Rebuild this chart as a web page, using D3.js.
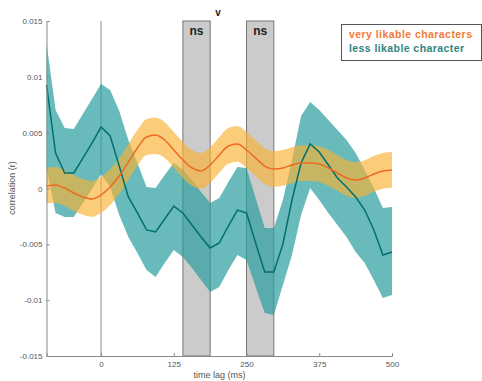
<!DOCTYPE html>
<html>
<head>
<meta charset="utf-8">
<script src="https://d3js.org/d3.v7.min.js"></script>
<style>
  body { margin: 0; background: #fff; }
  svg { display: block; font-family: "Liberation Sans", Arial, sans-serif; }
</style>
</head>
<body>
<svg id="chart" width="482" height="381"></svg>
<script>
// time lags (ms), sampled every 15.625 ms
const lags = [-93.75, -78.125, -62.5, -46.875, -31.25, -15.625, 0, 15.625, 31.25, 46.875,
  62.5, 78.125, 93.75, 109.375, 125, 140.625, 156.25, 171.875, 187.5, 203.125,
  218.75, 234.375, 250, 265.625, 281.25, 296.875, 312.5, 328.125, 343.75, 359.375,
  375, 390.625, 406.25, 421.875, 437.5, 453.125, 468.75, 484.375, 500];

// very likable characters (x 0.001)
const likedMean = [0.22, 0.31, 0.04, -0.40, -0.76, -0.94, -0.58, 0.13, 1.12, 2.37,
  3.63, 4.61, 4.79, 4.34, 3.45, 2.55, 1.84, 1.57, 2.10, 3.00,
  3.81, 3.99, 3.45, 2.73, 2.01, 1.75, 1.84, 2.10, 2.28, 2.28,
  2.19, 1.84, 1.39, 0.94, 0.76, 0.94, 1.30, 1.57, 1.66];
const likedHi = [1.84, 1.92, 1.64, 1.20, 0.84, 0.66, 1.02, 1.73, 2.72, 3.97,
  5.23, 6.21, 6.35, 5.94, 5.05, 4.15, 3.44, 3.17, 3.70, 4.60,
  5.41, 5.59, 5.05, 4.33, 3.61, 3.35, 3.44, 3.70, 3.88, 3.88,
  3.79, 3.44, 2.99, 2.54, 2.36, 2.54, 2.90, 3.17, 3.26];
const likedLo = [-1.30, -1.30, -1.56, -2.00, -2.36, -2.54, -2.18, -1.47, -0.48, 0.77,
  2.03, 3.01, 3.09, 2.74, 1.85, 0.95, 0.24, -0.03, 0.50, 1.40,
  2.21, 2.39, 1.85, 1.13, 0.41, 0.15, 0.24, 0.50, 0.68, 0.68,
  0.59, 0.24, -0.21, -0.66, -0.84, -0.66, -0.30, -0.03, 0.06];

// less likable character (x 0.001)
const lessMean = [9.27, 3.18, 1.39, 1.39, 2.73, 4.07, 5.50, 4.70, 2.01, -0.76,
  -2.19, -3.71, -3.89, -2.73, -1.57, -2.19, -3.27, -4.34, -5.33, -4.88,
  -3.36, -1.93, -2.19, -4.88, -7.48, -7.48, -4.97, -1.03, 2.28, 3.98,
  3.27, 2.10, 0.94, 0.13, -0.76, -1.93, -3.71, -5.95, -5.69];
const lessHi = [13.03, 7.03, 5.42, 5.33, 6.67, 8.01, 9.36, 8.82, 6.94, 4.34,
  2.28, 0.13, 0.04, 1.21, 2.28, 1.66, 0.76, -0.31, -1.30, -0.85,
  0.58, 1.92, 1.84, -0.85, -3.54, -3.54, -1.03, 2.55, 6.49, 7.74,
  7.03, 6.13, 5.24, 4.34, 3.18, 1.66, 0.04, -1.75, -1.66];
const lessLo = [1.84, -2.19, -2.55, -2.55, -1.30, -0.04, 1.30, 0.13, -2.37, -4.34,
  -5.77, -7.30, -7.92, -6.67, -5.51, -6.13, -7.12, -8.19, -9.27, -8.82,
  -7.30, -5.95, -6.40, -8.82, -11.15, -11.32, -8.64, -5.95, -2.37, 0.04,
  -1.03, -2.19, -3.27, -4.34, -5.68, -6.67, -8.19, -9.80, -9.53];

// non-significant windows (ms)
const nsWindows = [[140.625, 187.5], [250, 296.875]];

const xTicks = [0, 125, 250, 375, 500];
const yTicks = [0.015, 0.01, 0.005, 0, -0.005, -0.01, -0.015];

const svg = d3.select("#chart");

const x = d3.scaleLinear().domain([-93.75, 500]).range([46.5, 392]);
const y = d3.scaleLinear().domain([-0.015, 0.015]).range([356, 21]);

const liked = lags.map((t, i) => ({ t, m: likedMean[i] / 1000, hi: likedHi[i] / 1000, lo: likedLo[i] / 1000 }));
const less = lags.map((t, i) => ({ t, m: lessMean[i] / 1000, hi: lessHi[i] / 1000, lo: lessLo[i] / 1000 }));

// ns boxes
svg.append("g")
  .selectAll("rect")
  .data(nsWindows)
  .join("rect")
  .attr("x", d => x(d[0]))
  .attr("y", y(0.015))
  .attr("width", d => x(d[1]) - x(d[0]))
  .attr("height", y(-0.015) - y(0.015))
  .attr("fill", "#cbcbcb")
  .attr("stroke", "#777")
  .attr("stroke-width", 1);

svg.append("g")
  .selectAll("text")
  .data(nsWindows)
  .join("text")
  .attr("x", d => (x(d[0]) + x(d[1])) / 2)
  .attr("y", 35)
  .attr("text-anchor", "middle")
  .attr("font-size", 12)
  .attr("font-weight", "bold")
  .attr("fill", "#222")
  .text("ns");

svg.append("text")
  .attr("x", 218).attr("y", 16)
  .attr("text-anchor", "middle")
  .attr("font-size", 10)
  .attr("font-weight", "bold")
  .attr("fill", "#222")
  .text("v");

// zero lag line
svg.append("line")
  .attr("x1", x(0)).attr("x2", x(0))
  .attr("y1", y(0.015)).attr("y2", y(-0.015))
  .attr("stroke", "#8a8a8a")
  .attr("stroke-width", 1);

// bands
const areaLin = d3.area().x(d => x(d.t)).y0(d => y(d.lo)).y1(d => y(d.hi));
const areaSmooth = d3.area().x(d => x(d.t)).y0(d => y(d.lo)).y1(d => y(d.hi)).curve(d3.curveMonotoneX);

svg.append("path")
  .datum(less)
  .attr("d", areaLin)
  .attr("fill", "#2a9d9d")
  .attr("fill-opacity", 0.7);

svg.append("path")
  .datum(liked)
  .attr("d", areaSmooth)
  .attr("fill", "#f9b233")
  .attr("fill-opacity", 0.65);

// mean lines
svg.append("path")
  .datum(less)
  .attr("d", d3.line().x(d => x(d.t)).y(d => y(d.m)))
  .attr("fill", "none")
  .attr("stroke", "#00706e")
  .attr("stroke-width", 1.5);

svg.append("path")
  .datum(liked)
  .attr("d", d3.line().x(d => x(d.t)).y(d => y(d.m)).curve(d3.curveMonotoneX))
  .attr("fill", "none")
  .attr("stroke", "#ef6a23")
  .attr("stroke-width", 1.5);

// axes
const yAxis = svg.append("g")
  .attr("transform", `translate(${x(-93.75)},0)`)
  .call(d3.axisLeft(y).tickValues(yTicks).tickSize(-3).tickPadding(4)
    .tickFormat(d => String(d)));
const xAxis = svg.append("g")
  .attr("transform", `translate(0,${y(-0.015)})`)
  .call(d3.axisBottom(x).tickValues(xTicks).tickSize(-3).tickPadding(5));

[yAxis, xAxis].forEach(g => {
  g.select(".domain").attr("stroke", "#8a8a8a");
  g.selectAll(".tick line").attr("stroke", "#8a8a8a");
  g.selectAll(".tick text").attr("fill", "#555").attr("font-size", 8)
    .attr("font-family", "Liberation Sans, Arial, sans-serif");
});

svg.append("text")
  .attr("x", 219.5).attr("y", 378)
  .attr("text-anchor", "middle")
  .attr("font-size", 9)
  .attr("fill", "#555")
  .text("time lag (ms)");

svg.append("text")
  .attr("transform", "translate(15,188) rotate(-90)")
  .attr("text-anchor", "middle")
  .attr("font-size", 9)
  .attr("fill", "#555")
  .text("correlation (r)");

// legend
const legend = svg.append("g");
legend.append("rect")
  .attr("x", 341.5).attr("y", 24.5)
  .attr("width", 140).attr("height", 36)
  .attr("fill", "#fff")
  .attr("stroke", "#555");
legend.append("text")
  .attr("x", 349).attr("y", 38)
  .attr("font-size", 10.5).attr("font-weight", "bold")
  .attr("fill", "#f07a3a")
  .attr("textLength", 123)
  .text("very likable characters");
legend.append("text")
  .attr("x", 349).attr("y", 52)
  .attr("font-size", 10.5).attr("font-weight", "bold")
  .attr("fill", "#2d8580")
  .attr("textLength", 115)
  .text("less likable character");
</script>
</body>
</html>
